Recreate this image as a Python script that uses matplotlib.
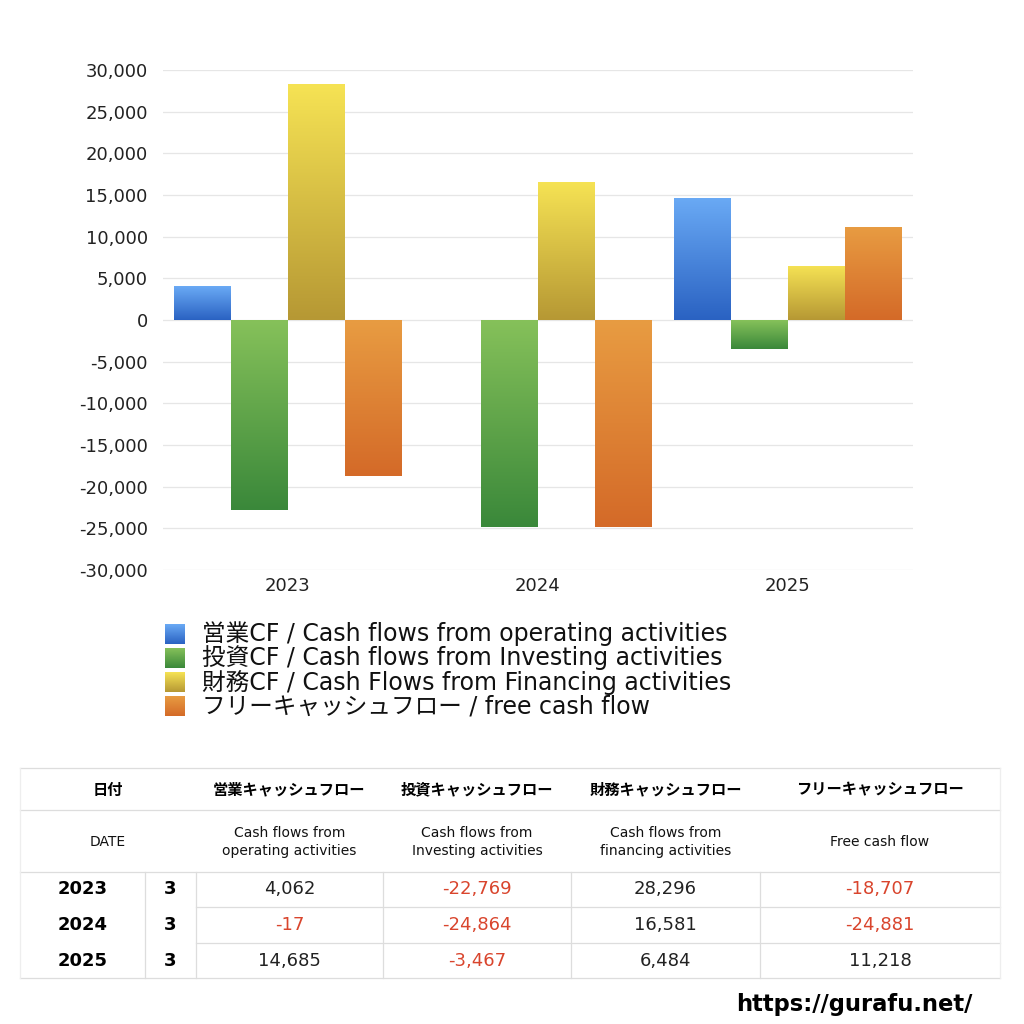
import numpy as np
import matplotlib
matplotlib.use("Agg")
import matplotlib.pyplot as plt
from matplotlib.colors import LinearSegmentedColormap
from matplotlib.ticker import FuncFormatter

plt.rcParams['font.family'] = ['DejaVu Sans', 'Noto Sans CJK JP']

years = ["2023", "2024", "2025"]
months = ["3", "3", "3"]
operating = [4062, -17, 14685]
investing = [-22769, -24864, -3467]
financing = [28296, 16581, 6484]
free_cf = [-18707, -24881, 11218]

series_values = [operating, investing, financing, free_cf]
legend_labels = [
    "営業CF / Cash flows from operating activities",
    "投資CF / Cash flows from Investing activities",
    "財務CF / Cash Flows from Financing activities",
    "フリーキャッシュフロー / free cash flow",
]
table_head_jp = ["日付", "営業キャッシュフロー", "投資キャッシュフロー", "財務キャッシュフロー", "フリーキャッシュフロー"]
table_head_en = ["DATE", "Cash flows from\noperating activities", "Cash flows from\nInvesting activities",
                 "Cash flows from\nfinancing activities", "Free cash flow"]

# (bottom colour, top colour) for each series
grad_colors = [("#2a62c2", "#6aaaf5"), ("#3a883a", "#86c15a"),
               ("#b69834", "#f6e354"), ("#d46a28", "#e89c42")]
red = "#d9452d"
line_c = "#dddddd"

fig = plt.figure(figsize=(10.24, 10.24), dpi=100)
ax = fig.add_axes([163 / 1024, 1 - 570 / 1024, 750 / 1024, 500 / 1024])

x = np.arange(len(years))
w = 0.228
grad = np.linspace(0, 1, 256).reshape(-1, 1)
for i, vals in enumerate(series_values):
    cmap = LinearSegmentedColormap.from_list("g%d" % i, grad_colors[i])
    bars = ax.bar(x + (i - 1.5) * w, vals, w, color="none", zorder=2)
    for b in bars:
        bx0, by0 = b.get_x(), b.get_y()
        bx1, by1 = bx0 + b.get_width(), by0 + b.get_height()
        ylo, yhi = min(by0, by1), max(by0, by1)
        im = ax.imshow(grad, cmap=cmap, extent=(bx0, bx1, ylo, yhi), origin="lower",
                       aspect="auto", zorder=2)
        im.set_clip_path(b)

ax.set_xlim(-0.5, 2.5)
ax.set_ylim(-30000, 30000)
ax.set_yticks(np.arange(-30000, 30001, 5000))
ax.yaxis.set_major_formatter(FuncFormatter(lambda v, p: "{:,.0f}".format(v)))
ax.set_xticks(x)
ax.set_xticklabels(years)
ax.grid(axis="y", color="#e6e6e6", lw=0.9, zorder=0)
ax.set_axisbelow(True)
for s in ax.spines.values():
    s.set_visible(False)
ax.tick_params(length=0, labelsize=13, colors="#222222", pad=11)
ax.tick_params(axis="x", pad=5)

# overlay in pixel coords for legend, table, watermark
ov = fig.add_axes([0, 0, 1, 1])
ov.axis("off")

for i, lab in enumerate(legend_labels):
    yc = 634 + i * 24
    cmap = LinearSegmentedColormap.from_list("l%d" % i, grad_colors[i])
    ov.imshow(grad, cmap=cmap, extent=(165, 185, yc + 10, yc - 10), origin="lower", aspect="auto")
    ov.text(202, yc, lab, fontsize=17, va="center", ha="left", color="#111111")
ov.set_xlim(0, 1024)
ov.set_ylim(1024, 0)

# table
col_edges = [20, 145, 196, 383, 571, 760, 1000]
row_edges = [768, 810, 872, 907, 943, 978]
for yy in [768, 810, 872, 978]:
    ov.plot([20, 1000], [yy, yy], color=line_c, lw=0.9)
for yy in [907, 943]:
    ov.plot([196, 1000], [yy, yy], color=line_c, lw=0.9)
for xx in col_edges[1:-1]:
    ov.plot([xx, xx], [872, 978], color=line_c, lw=0.9)
ov.plot([20, 20], [768, 978], color="#eeeeee", lw=0.9)
ov.plot([1000, 1000], [768, 978], color="#eeeeee", lw=0.9)

hcent = [108] + [(col_edges[j] + col_edges[j + 1]) / 2 for j in range(2, 6)]
for j in range(5):
    ov.text(hcent[j], 790, table_head_jp[j], fontsize=11, fontweight="bold", ha="center", va="center")
    ov.text(hcent[j], 842, table_head_en[j], fontsize=10, ha="center", va="center",
            linespacing=1.4, color="#111111")

for r in range(len(years)):
    yc = (row_edges[r + 2] + row_edges[r + 3]) / 2
    ov.text(83, yc, years[r], fontsize=13, fontweight="bold", ha="center", va="center")
    ov.text(170, yc, months[r], fontsize=13, fontweight="bold", ha="center", va="center")
    for j, vals in enumerate(series_values):
        v = vals[r]
        cx = (col_edges[j + 2] + col_edges[j + 3]) / 2
        ov.text(cx, yc, "{:,}".format(v), fontsize=13, ha="center", va="center",
                color=red if v < 0 else "#222222")

ov.text(972, 1004, "https://gurafu.net/", fontsize=16.3, fontweight="bold", ha="right", va="center")

fig.savefig("out.png", dpi=100)
